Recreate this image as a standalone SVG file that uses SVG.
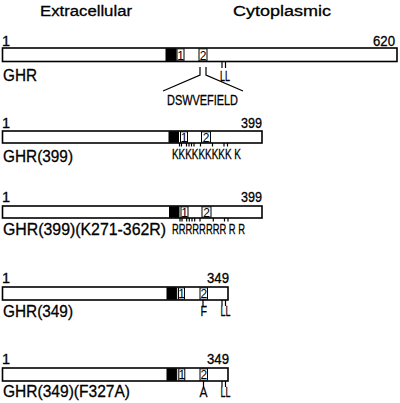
<svg xmlns="http://www.w3.org/2000/svg" width="400" height="403" viewBox="0 0 400 403">
<style>
.t{font-family:"Liberation Sans",Arial,sans-serif;fill:#000;stroke:#000;stroke-width:0.3}
.bar{fill:#fff;stroke:#000;stroke-width:1.6}
.blk{fill:#000;stroke:#000;stroke-width:1}
.box{fill:#fff;stroke:#000;stroke-width:1}
.bx{font-family:"Liberation Sans",Arial,sans-serif;font-size:12px;text-anchor:middle}
.tk{stroke:#000;stroke-width:1.2;fill:none}
</style>
<rect width="400" height="403" fill="#fff"/>
<g id="headers">
<text class="t" x="40" y="16" font-size="15.5" textLength="92" lengthAdjust="spacingAndGlyphs">Extracellular</text>
<text class="t" x="233" y="16" font-size="15.5" textLength="98" lengthAdjust="spacingAndGlyphs">Cytoplasmic</text>
</g>
<g id="row-GHR">
<text class="t" x="2" y="46" font-size="14.5">1</text>
<text class="t" x="373" y="46" font-size="14.5" textLength="22" lengthAdjust="spacingAndGlyphs">620</text>
<rect class="bar" x="2.5" y="48" width="394.5" height="13.5"/>
<rect class="blk" x="166" y="48.8" width="10" height="12"/>
<rect class="box" x="177" y="48.8" width="7" height="12"/><text class="bx" x="180.5" y="59.5">1</text>
<rect class="box" x="199" y="48.8" width="8" height="12"/><text class="bx" x="203" y="59.5">2</text>
<text class="t" x="3" y="81" font-size="16.5" textLength="34" lengthAdjust="spacingAndGlyphs">GHR</text>
<text class="t" x="220" y="81" font-size="15" textLength="10" lengthAdjust="spacingAndGlyphs">LL</text>
<text class="t" x="167" y="105" font-size="15" textLength="71" lengthAdjust="spacingAndGlyphs">DSWVEFIELD</text>
</g>
<g id="row-GHR399">
<text class="t" x="2" y="128" font-size="14.5">1</text>
<text class="t" x="241" y="128" font-size="14.5" textLength="21" lengthAdjust="spacingAndGlyphs">399</text>
<rect class="bar" x="2.5" y="131" width="259.5" height="12"/>
<rect class="blk" x="169" y="131.8" width="9.5" height="10.4"/>
<rect class="box" x="180.5" y="131.8" width="7" height="10.4"/><text class="bx" x="184" y="141.5">1</text>
<rect class="box" x="201.5" y="131.8" width="9" height="10.4"/><text class="bx" x="206" y="141.5">2</text>
<text class="t" x="3" y="162" font-size="16.5" textLength="70" lengthAdjust="spacingAndGlyphs">GHR(399)</text>
<text class="t" x="172" y="159" font-size="15" textLength="69" lengthAdjust="spacingAndGlyphs">KKKKKKKKK K</text>
</g>
<g id="row-GHR399-KR">
<text class="t" x="2" y="202" font-size="14.5">1</text>
<text class="t" x="241" y="202" font-size="14.5" textLength="21" lengthAdjust="spacingAndGlyphs">399</text>
<rect class="bar" x="2.5" y="206" width="259.5" height="12"/>
<rect class="blk" x="169.5" y="206.8" width="9.5" height="10.4"/>
<rect class="box" x="181" y="206.8" width="7" height="10.4"/><text class="bx" x="184.5" y="216.5">1</text>
<rect class="box" x="202" y="206.8" width="9" height="10.4"/><text class="bx" x="206.5" y="216.5">2</text>
<text class="t" x="3" y="235" font-size="16.5" textLength="163" lengthAdjust="spacingAndGlyphs">GHR(399)(K271-362R)</text>
<text class="t" x="172" y="234" font-size="15" textLength="73" lengthAdjust="spacingAndGlyphs">RRRRRRRR R R</text>
</g>
<g id="row-GHR349">
<text class="t" x="2" y="283" font-size="14.5">1</text>
<text class="t" x="207" y="283" font-size="14.5" textLength="22" lengthAdjust="spacingAndGlyphs">349</text>
<rect class="bar" x="2.5" y="287" width="225.5" height="13"/>
<rect class="blk" x="167" y="287.8" width="9.7" height="11.4"/>
<rect class="box" x="178.5" y="287.8" width="6" height="11.4"/><text class="bx" x="181.5" y="298">1</text>
<rect class="box" x="200" y="287.8" width="7.5" height="11.4"/><text class="bx" x="203.8" y="298">2</text>
<text class="t" x="3" y="317" font-size="16.5" textLength="70" lengthAdjust="spacingAndGlyphs">GHR(349)</text>
<text class="t" x="200.5" y="316" font-size="15" textLength="6.5" lengthAdjust="spacingAndGlyphs">F</text>
<text class="t" x="220.5" y="316" font-size="15" textLength="10" lengthAdjust="spacingAndGlyphs">LL</text>
</g>
<g id="row-GHR349-FA">
<text class="t" x="2" y="364" font-size="14.5">1</text>
<text class="t" x="207" y="364" font-size="14.5" textLength="22" lengthAdjust="spacingAndGlyphs">349</text>
<rect class="bar" x="2.5" y="368" width="225.5" height="13"/>
<rect class="blk" x="167" y="368.8" width="9.7" height="11.4"/>
<rect class="box" x="178.8" y="368.8" width="6" height="11.4"/><text class="bx" x="181.8" y="379">1</text>
<rect class="box" x="200" y="368.8" width="7.5" height="11.4"/><text class="bx" x="203.8" y="379">2</text>
<text class="t" x="3" y="397" font-size="16.5" textLength="127" lengthAdjust="spacingAndGlyphs">GHR(349)(F327A)</text>
<text class="t" x="199.5" y="397" font-size="15" textLength="8" lengthAdjust="spacingAndGlyphs">A</text>
<text class="t" x="220.5" y="397" font-size="15" textLength="10" lengthAdjust="spacingAndGlyphs">LL</text>
</g>
<g id="connectors">
<path class="tk" d="M200,67 V75 L163,91 M206,67 V75 L243,91"/>
<path class="tk" d="M222,62 V68 M225.5,62 V68"/>
<path class="tk" d="M179.5,143 V146.5 M181.5,143 V146.5 M186.5,143 V146.5 M189,143 V146.5 M191.5,143 V146.5 M194,143 V146.5 M200.5,143 V146.5 M212.5,143 V146.5 M224,143 V146.5 M227.5,143 V146.5"/>
<path class="tk" d="M180,218 V221.5 M182,218 V221.5 M186.7,218 V221.5 M189.3,218 V221.5 M192,218 V221.5 M194.7,218 V221.5 M200,218 V221.5 M213.3,218 V221.5 M224.5,218 V221.5 M228,218 V221.5"/>
<path class="tk" d="M203,300 V306 M222,300 V306 M225.5,300 V306"/>
<path class="tk" d="M203.5,381 V387 M222,381 V387 M225.5,381 V387"/>
</g>
</svg>
